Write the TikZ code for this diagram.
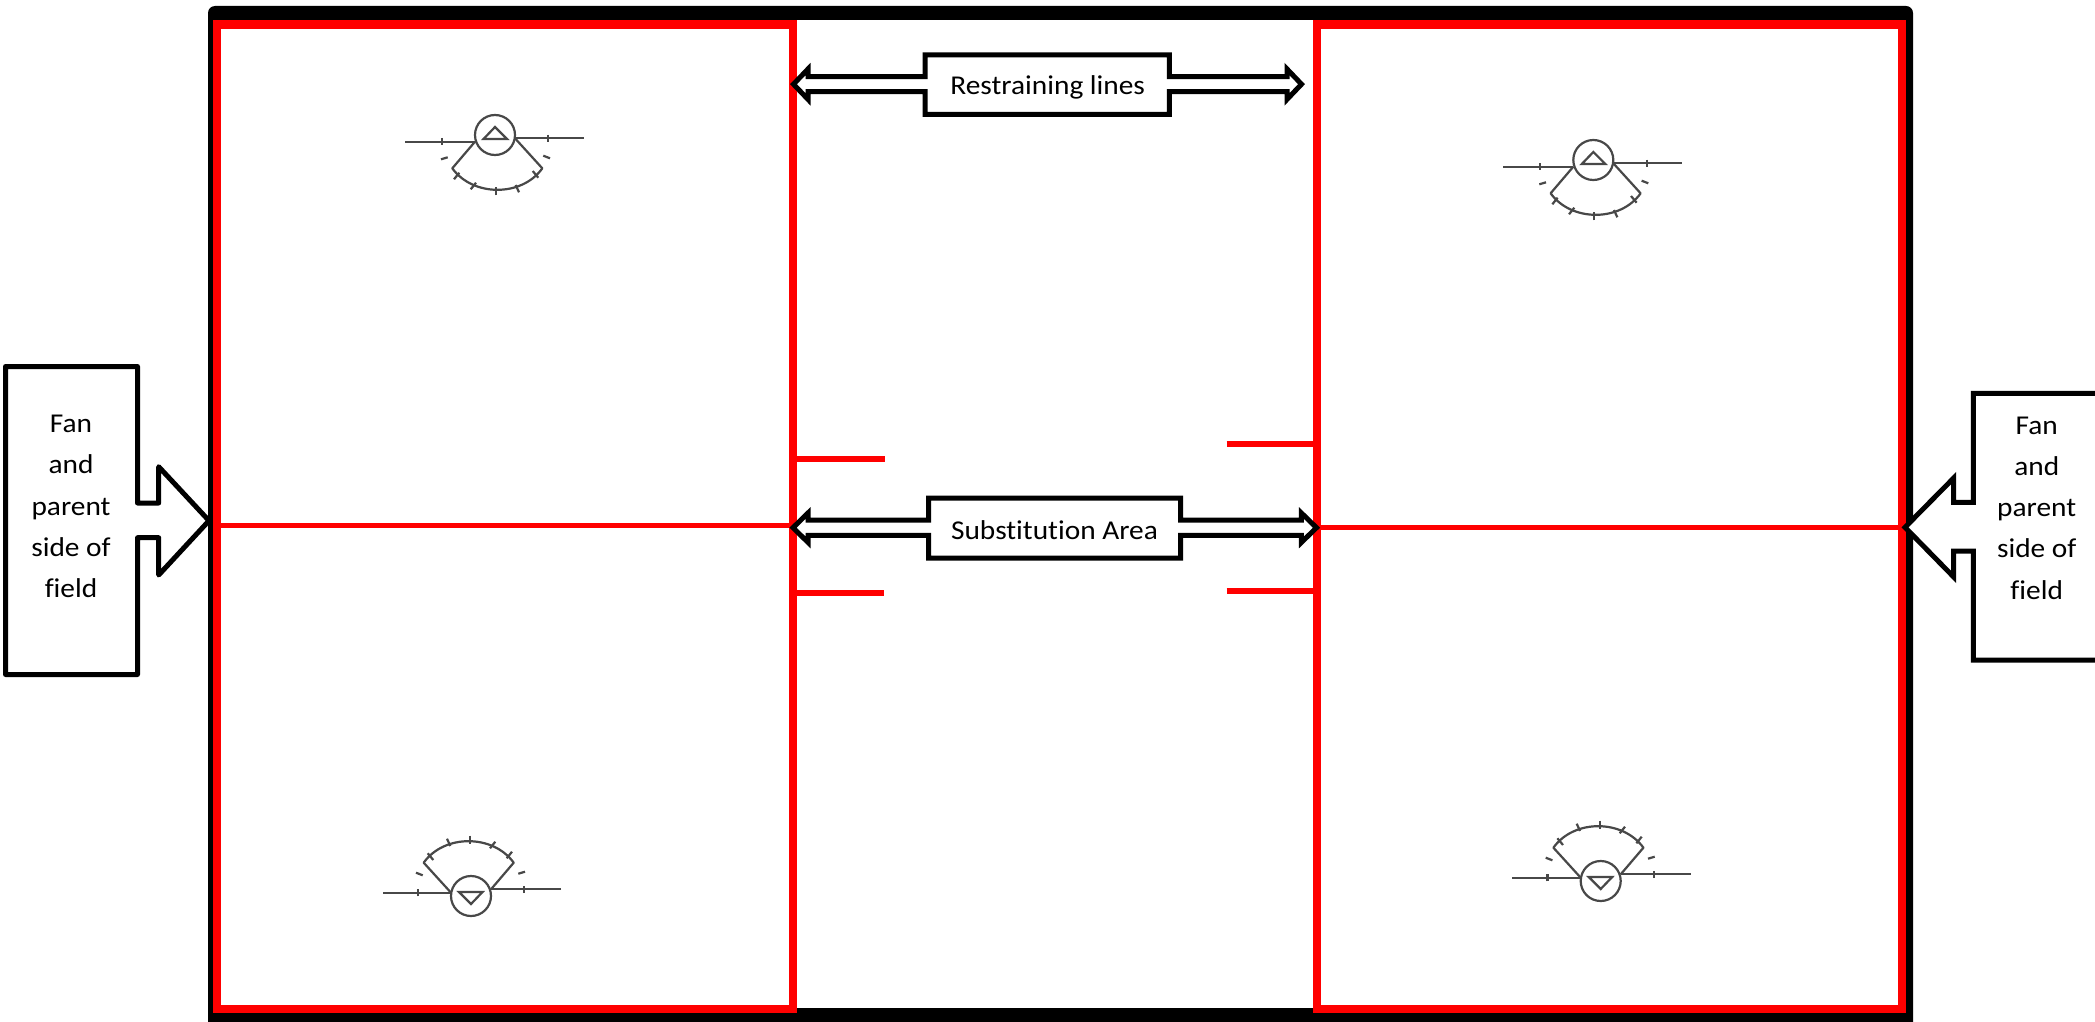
\documentclass[tikz,border=0pt]{standalone}
\usepackage{fontspec}
\setmainfont[Ligatures=NoCommon,FakeStretch=1.08]{Carlito}
\definecolor{fieldgray}{HTML}{484848}
\tikzset{
  frameshape/.style={fill=black,rounded corners=7pt},
  redbox/.style={draw=red,line width=8.5pt,miter limit=10},
  redmid/.style={draw=red,line width=5.5pt},
  redtick/.style={draw=red,line width=6pt},
  bigcallout/.style={draw=black,fill=white,line width=5pt,line join=miter,miter limit=10},
  fancallout/.style={draw=black,fill=white,line width=5pt,line join=round},
  labeltext/.style={font=\fontsize{27.2}{41.3}\selectfont,inner sep=0pt,align=center},
  fieldline/.style={draw=fieldgray,line width=2.2pt},
}
\newcommand{\fieldsym}[3]{%
\begin{scope}[shift={(#1,#2)},rotate=#3]
  \draw[fieldline] (0,0) circle (20);
  \draw[fieldline,line join=miter] (0,-8) -- (-11.5,4) -- (12,4) -- cycle;
  \draw[fieldline] (-11.5,4) -- (12,4);
  \draw[fieldline] (-90,6.7) -- (-20,6.7);
  \draw[fieldline] (-53.3,3) -- (-53.3,10.2);
  \draw[fieldline] (20,3.3) -- (88.5,3.3);
  \draw[fieldline] (53.3,-0.3) -- (53.3,7);
  \draw[fieldline,line join=round] (-20,6.7) -- (-42.7,33.3) .. controls (-22,62) and (27,62) .. (47.3,33.3) -- (20,3.3);
  \draw[fieldline] (-41,44.3) -- (-35.7,37.7);
  \draw[fieldline] (-24.3,54.3) -- (-19,47.7);
  \draw[fieldline] (0.7,60.3) -- (0.7,52);
  \draw[fieldline] (24,57.3) -- (20.7,50);
  \draw[fieldline] (43.3,42.7) -- (37.7,36);
  \draw[fieldline] (-54,24.3) -- (-47.3,22.3);
  \draw[fieldline] (48.3,20.7) -- (55,23.3);
\end{scope}}
\begin{document}
\begin{tikzpicture}[x=1pt,y=-1pt]
\useasboundingbox (0,0) rectangle (2095,1022);
\clip (0,0) rectangle (2095,1022);
\fill[white] (0,0) rectangle (2095,1022);
% frame and team areas
\fill[frameshape] (208,6) rectangle (1913,1030);
\fill[white] (221,20) rectangle (1900,1008);
\draw[redbox] (217,24.5) rectangle (793,1009);
\draw[redbox] (1317,24.5) rectangle (1902,1009);
\draw[redmid] (219,525.5) -- (791,525.5);
\draw[redmid] (1319,527.7) -- (1900,527.7);
\draw[redtick] (795,459.3) -- (884.5,459.3);
\draw[redtick] (795,593) -- (883.5,593);
\draw[redtick] (1226.5,444) -- (1315,444);
\draw[redtick] (1226.5,591) -- (1315,591);
% restraining lines callout
\draw[bigcallout] (925,54.8) -- (925,76.7) -- (808,76.7) -- (808,69) -- (793.5,84.2) -- (808,99.4) -- (808,91.7) -- (925,91.7) -- (925,114.3) -- (1169.3,114.3) -- (1169.3,91.7) -- (1287,91.7) -- (1287,99.4) -- (1301.5,84.2) -- (1287,69) -- (1287,76.7) -- (1169.3,76.7) -- (1169.3,54.8) -- cycle;
\node[labeltext,anchor=base] (restrain) at (1047.7,94.3) {Restraining lines};
% substitution area callout
\draw[bigcallout] (928.5,498) -- (928.5,520) -- (808,520) -- (808,513) -- (793,527.7) -- (808,542.4) -- (808,535.3) -- (928.5,535.3) -- (928.5,558) -- (1180.7,558) -- (1180.7,535.3) -- (1301.4,535.3) -- (1301.4,542.4) -- (1316.5,527.7) -- (1301.4,513) -- (1301.4,520) -- (1180.7,520) -- (1180.7,498) -- cycle;
\node[labeltext,anchor=base] (subst) at (1054.5,539) {Substitution Area};
% fan callouts
\draw[fancallout] (5.5,366.5) -- (137.5,366.5) -- (137.5,503) -- (158.7,503) -- (158.7,466.7) -- (209,520.7) -- (158.7,575) -- (158.7,537.7) -- (137.5,537.7) -- (137.5,674.5) -- (5.5,674.5) -- cycle;
\node[labeltext] (fanleft) at (71,506.5) {Fan\\and\\parent\\side of\\field};
\draw[fancallout,line join=miter] (2110,393.3) -- (1973.3,393.3) -- (1973.3,502.3) -- (1953.7,502.3) -- (1953.7,478) -- (1905,527.3) -- (1953.7,577) -- (1953.7,551) -- (1973.3,551) -- (1973.3,660) -- (2110,660) -- cycle;
\node[labeltext] (fanright) at (2036.7,508) {Fan\\and\\parent\\side of\\field};
% field symbols
\fieldsym{495}{135}{0}
\fieldsym{1593.3}{160}{0}
\fieldsym{471}{896}{180}
\fieldsym{1600.7}{881}{180}
\end{tikzpicture}
\end{document}
